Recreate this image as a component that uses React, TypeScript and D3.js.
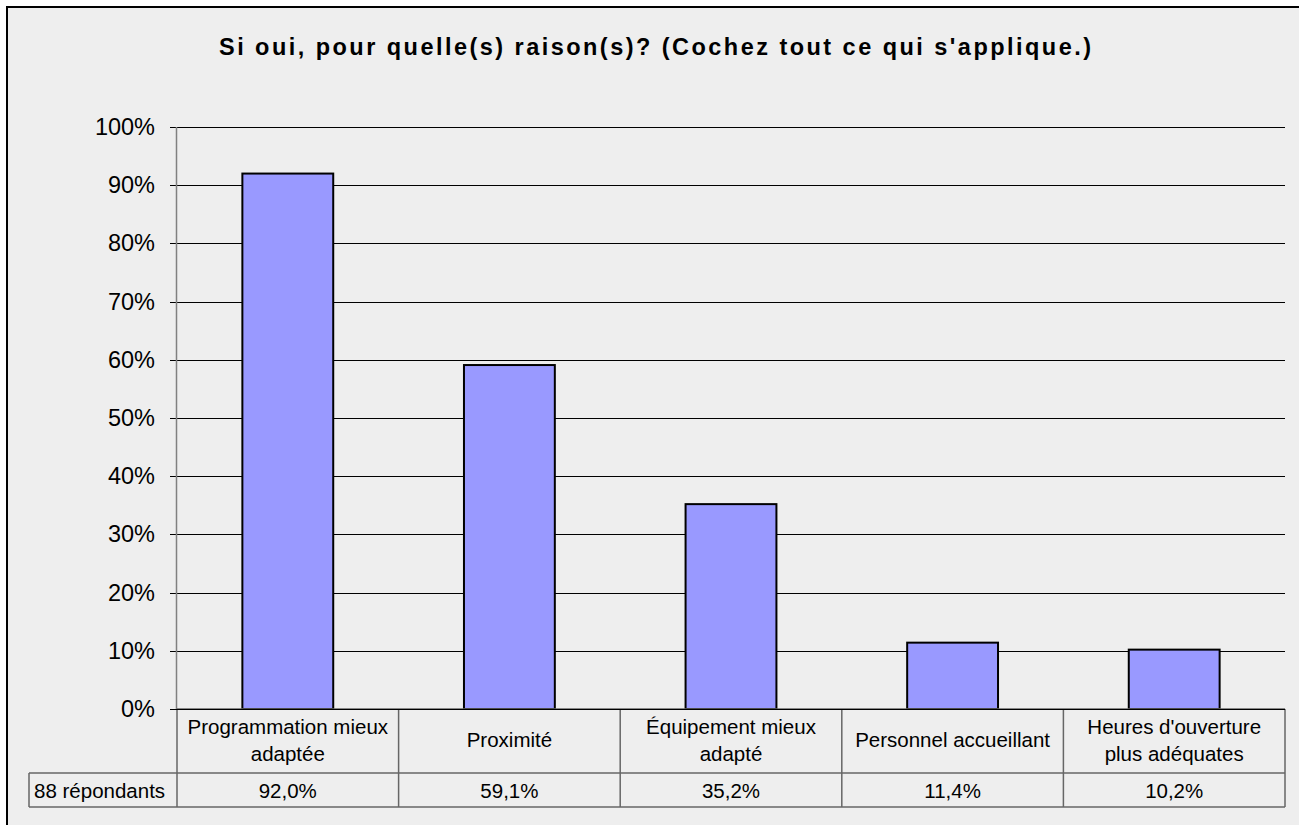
import React from "react";
import * as d3 from "d3";

const title = "Si oui, pour quelle(s) raison(s)? (Cochez tout ce qui s'applique.)";
const categories = [
  ["Programmation mieux", "adaptée"],
  ["Proximité"],
  ["Équipement mieux", "adapté"],
  ["Personnel accueillant"],
  ["Heures d'ouverture", "plus adéquates"],
];
const values = [92.0, 59.1, 35.2, 11.4, 10.2];
const valueLabels = ["92,0%", "59,1%", "35,2%", "11,4%", "10,2%"];
const rowLabel = "88 répondants";
const yTicks = [0, 10, 20, 30, 40, 50, 60, 70, 80, 90, 100];

export default function App() {
  const W = 1299, H = 825;
  const left = 177, right = 1285, top = 127, bottom = 709;
  const row1Bottom = 773, row2Bottom = 807, labelLeft = 29;
  const font = "Arial, 'Liberation Sans', sans-serif";

  const x = d3.scaleBand<number>().domain(d3.range(values.length)).range([left, right]).paddingInner(0).paddingOuter(0);
  const y = d3.scaleLinear().domain([0, 100]).range([bottom, top]);
  const bw = x.bandwidth() * 0.41;

  return (
    <svg width={W} height={H} style={{ position: "absolute", left: 0, top: 0 }}>
      <rect x={0} y={0} width={W} height={H} fill="#ffffff" />
      <rect x={7} y={7} width={W + 20} height={H + 20} fill="#eeeeee" stroke="#000" strokeWidth={2} />
      <text x={655} y={55} textAnchor="middle" fontFamily={font} fontWeight="bold" fontSize={23.5}
        textLength={872} lengthAdjust="spacing" fill="#000">{title}</text>

      {yTicks.map((t) => (
        <g key={t}>
          <line x1={170} x2={right} y1={Math.round(y(t)) + 0.5} y2={Math.round(y(t)) + 0.5} stroke="#000" strokeWidth={1} />
          <text x={155} y={y(t) + 8} textAnchor="end" fontFamily={font} fontSize={23.5} fill="#000">{t}%</text>
        </g>
      ))}
      <line x1={left - 0.5} x2={left - 0.5} y1={top} y2={bottom} stroke="#808080" strokeWidth={1.5} />

      {values.map((v, i) => {
        const cx = (x(i) as number) + x.bandwidth() / 2;
        return (
          <rect key={i} x={cx - bw / 2} y={y(v)} width={bw} height={bottom - y(v)}
            fill="#9999ff" stroke="#000" strokeWidth={2} />
        );
      })}

      {/* table */}
      <g stroke="#666" strokeWidth={1.5} fill="none">
        <line x1={left} x2={right} y1={bottom} y2={bottom} />
        <line x1={labelLeft} x2={right} y1={row1Bottom} y2={row1Bottom} />
        <line x1={labelLeft} x2={right} y1={row2Bottom} y2={row2Bottom} />
        <line x1={labelLeft} x2={labelLeft} y1={row1Bottom} y2={row2Bottom} />
        {d3.range(values.length + 1).map((i) => {
          const xx = i < values.length ? (x(i) as number) : right;
          return <line key={i} x1={xx} x2={xx} y1={bottom} y2={row2Bottom} />;
        })}
      </g>
      <line x1={170} x2={right} y1={bottom + 0.5} y2={bottom + 0.5} stroke="#000" strokeWidth={1} />

      {categories.map((lines, i) => {
        const cx = (x(i) as number) + x.bandwidth() / 2;
        const n = lines.length;
        const lh = 27;
        const base = 747 - ((n - 1) * lh) / 2;
        return (
          <text key={i} textAnchor="middle" fontFamily={font} fontSize={20.5} fill="#000">
            {lines.map((l, j) => (
              <tspan key={j} x={cx} y={base + j * lh}>{l}</tspan>
            ))}
          </text>
        );
      })}
      {valueLabels.map((l, i) => {
        const cx = (x(i) as number) + x.bandwidth() / 2;
        return <text key={i} x={cx} y={798} textAnchor="middle" fontFamily={font} fontSize={20.5} fill="#000">{l}</text>;
      })}
      <text x={34} y={798} fontFamily={font} fontSize={20.5} fill="#000">{rowLabel}</text>
    </svg>
  );
}
